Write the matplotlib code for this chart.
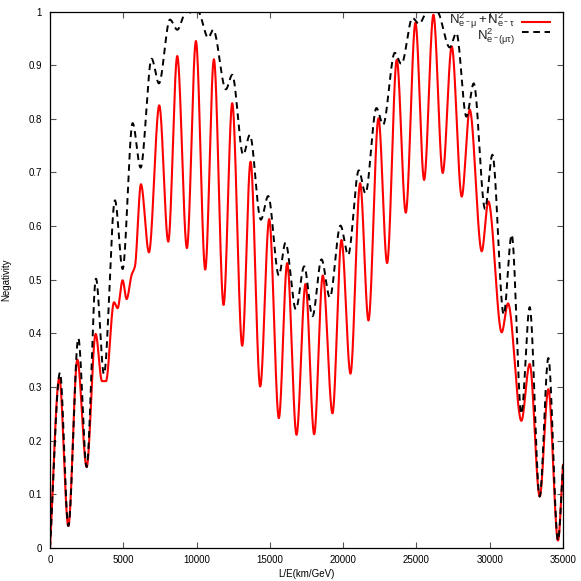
import numpy as np
import matplotlib.pyplot as plt

# extrema (L/E in km/GeV, negativity)
red_x = [0, 636, 1250, 1864, 2500, 3114, 3550, 3820, 4364, 4614, 4955, 5227,
         5568, 5795, 6205, 6750, 7455, 8068, 8682, 9341, 9955, 10591, 11182,
         11841, 12432, 13114, 13682, 14341, 14955, 15614, 16182, 16818, 17432,
         18023, 18610, 19273, 19886, 20500, 21159, 21727, 22409, 22999, 23659,
         24273, 24932, 25523, 26159, 26795, 27409, 28091, 28636, 29455, 29909,
         30818, 31250, 32159, 32727, 33409, 34000, 34659, 35000]
red_y = [0.0, 0.317, 0.041, 0.351, 0.151, 0.399, 0.311, 0.311, 0.458, 0.447,
         0.499, 0.464, 0.509, 0.525, 0.678, 0.551, 0.825, 0.571, 0.917, 0.559,
         0.945, 0.519, 0.911, 0.453, 0.829, 0.377, 0.720, 0.301, 0.613, 0.242,
         0.531, 0.211, 0.492, 0.212, 0.508, 0.251, 0.574, 0.325, 0.680, 0.424,
         0.801, 0.531, 0.910, 0.625, 0.979, 0.686, 0.994, 0.699, 0.935, 0.655,
         0.817, 0.553, 0.646, 0.402, 0.456, 0.237, 0.343, 0.096, 0.296, 0.014,
         0.155]

black_x = [0, 682, 1250, 1932, 2500, 3136, 3682, 4432, 4955, 5636, 6182, 6932,
           7432, 8182, 8682, 9300, 9750, 10091, 10795, 11136, 12000, 12432,
           13182, 13636, 14386, 14886, 15614, 16068, 16773, 17341, 17909,
           18523, 19091, 19818, 20341, 21068, 21523, 22273, 22727, 23523,
           23977, 24727, 25182, 25750, 26400, 27273, 27727, 28409, 28909,
           29682, 30182, 30955, 31500, 32159, 32727, 33409, 34000, 34659, 35000]
black_y = [0.0, 0.327, 0.041, 0.391, 0.151, 0.502, 0.324, 0.648, 0.520, 0.792,
           0.709, 0.912, 0.866, 0.985, 0.966, 1.0, 0.997, 1.0, 0.951, 0.966,
           0.855, 0.882, 0.733, 0.770, 0.612, 0.656, 0.508, 0.569, 0.445,
           0.525, 0.432, 0.538, 0.467, 0.601, 0.546, 0.704, 0.661, 0.820,
           0.789, 0.923, 0.902, 0.988, 0.977, 1.0, 1.0, 0.933, 0.960, 0.804,
           0.866, 0.632, 0.733, 0.435, 0.584, 0.250, 0.449, 0.096, 0.354,
           0.014, 0.155]

x_ticks = [0, 5000, 10000, 15000, 20000, 25000, 30000, 35000]
y_ticks = [0, 0.1, 0.2, 0.3, 0.4, 0.5, 0.6, 0.7, 0.8, 0.9, 1]
y_labels = ['0', '0.1', '0.2', '0.3', '0.4', '0.5', '0.6', '0.7', '0.8',
            '0.9', '1']

red_title = r'$\mathrm{N^2_{e^-\mu}+N^2_{e^-\tau}}$'
black_title = r'$\mathrm{N^2_{e^-(\mu\tau)}}$'


def pchip(xk, yk, n=3000):
    # monotone cubic through the read points, just for a smooth line
    xk = np.asarray(xk, float)
    yk = np.asarray(yk, float)
    h = np.diff(xk)
    d = np.diff(yk) / h
    m = np.zeros_like(yk)
    for i in range(1, len(xk) - 1):
        if d[i - 1] * d[i] > 0:
            w1 = 2 * h[i] + h[i - 1]
            w2 = h[i] + 2 * h[i - 1]
            m[i] = (w1 + w2) / (w1 / d[i - 1] + w2 / d[i])
    m[0] = d[0]
    m[-1] = d[-1]
    xs = np.linspace(xk[0], xk[-1], n)
    idx = np.clip(np.searchsorted(xk, xs) - 1, 0, len(h) - 1)
    t = (xs - xk[idx]) / h[idx]
    h00 = 2 * t**3 - 3 * t**2 + 1
    h10 = t**3 - 2 * t**2 + t
    h01 = -2 * t**3 + 3 * t**2
    h11 = t**3 - t**2
    ys = (h00 * yk[idx] + h10 * h[idx] * m[idx]
          + h01 * yk[idx + 1] + h11 * h[idx] * m[idx + 1])
    return xs, ys


plt.rcParams['font.family'] = ['Liberation Sans', 'DejaVu Sans']
plt.rcParams['mathtext.fontset'] = 'custom'
plt.rcParams['mathtext.rm'] = 'Liberation Sans'
plt.rcParams['mathtext.it'] = 'Liberation Sans'

fig = plt.figure(figsize=(5.81, 5.81), dpi=100)
ax = fig.add_axes([50 / 581, 33 / 581, 513 / 581, 536.5 / 581])

rx, ry = pchip(red_x, red_y)
bx, by = pchip(black_x, black_y)

red_style = dict(color='#ff0000', lw=1.5)
black_style = dict(color='black', lw=1.4, linestyle=(0, (3.4, 2.4)))

ax.plot(rx, ry, **red_style)
ax.plot(bx, by, **black_style)

ax.set_xlim(0, 35000)
ax.set_ylim(0, 1)
ax.set_xticks(x_ticks)
ax.set_xticklabels([str(v) for v in x_ticks])
ax.set_yticks(y_ticks)
ax.set_yticklabels(y_labels)
ax.tick_params(direction='in', length=4, width=0.8, labelsize=7,
               top=True, right=True, color='#555555')
ax.tick_params(axis='y', pad=6)
ax.tick_params(axis='x', pad=5)
for s in ax.spines.values():
    s.set_linewidth(0.9)

ax.set_xlabel('L/E(km/GeV)', fontsize=7, labelpad=3)
ax.set_ylabel('Negativity', fontsize=7, labelpad=12)

# gnuplot-like key, top right
tr = ax.transAxes
ax.text(0.906, 0.983, red_title, transform=tr, ha='right', va='center',
        fontsize=9.5, color='#222222')
ax.text(0.906, 0.953, black_title, transform=tr, ha='right', va='center',
        fontsize=9.5, color='#222222')
ax.plot([0.92, 0.975], [0.981, 0.981], transform=tr, clip_on=False,
        **red_style)
ax.plot([0.92, 0.975], [0.961, 0.961], transform=tr, clip_on=False,
        **black_style)

plt.savefig('out.png', dpi=100)
